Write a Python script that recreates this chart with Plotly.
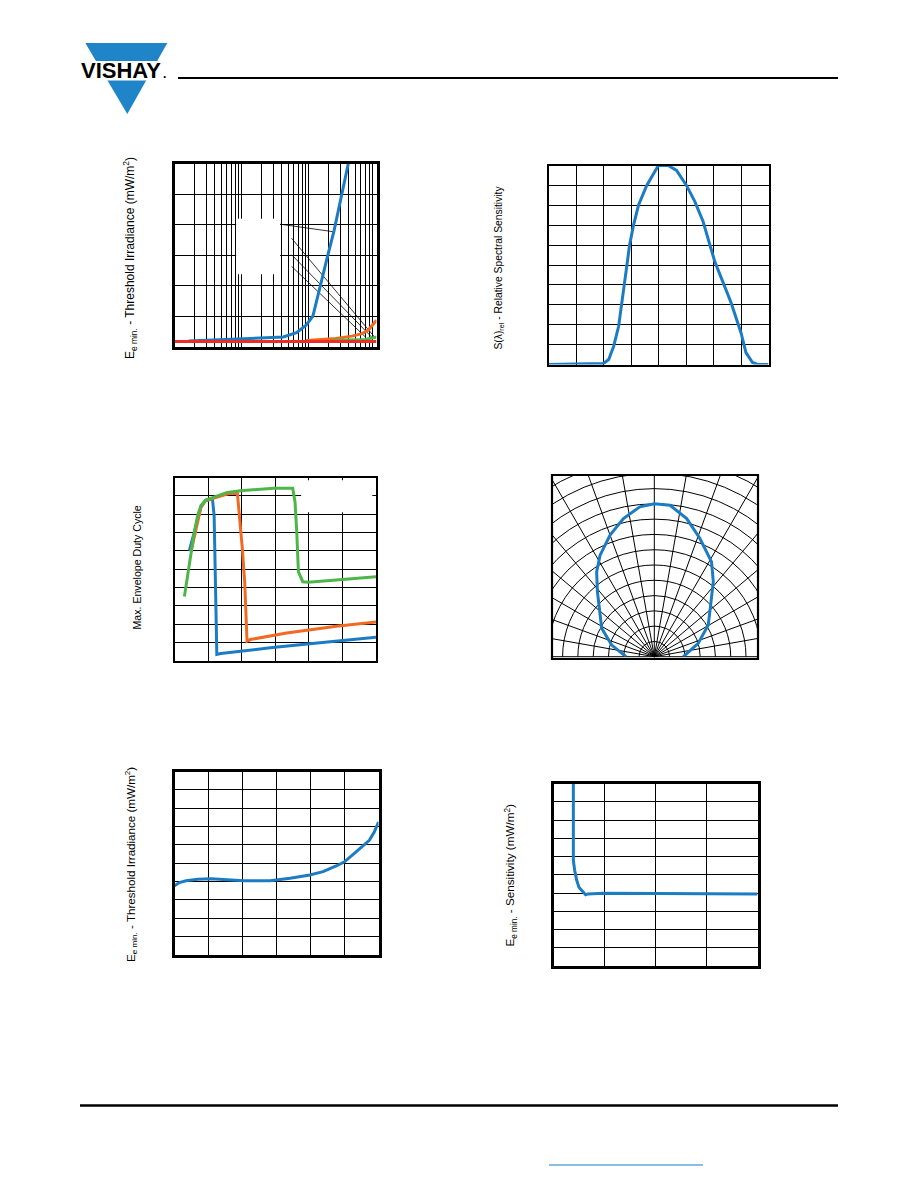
import plotly.graph_objects as go

# The page body adds an 8px margin; positions below are page pixels.
OFF = 8
W, H = 910, 1180
FONT = "Liberation Sans, Arial, sans-serif"
BLUE = "#1b7cc3"
ORANGE = "#f26a22"
GREEN = "#4cb748"
RED = "#ee2a24"


def fx(v):
    return (v - OFF) / W


def fy(v):
    return 1 - (v - OFF) / H


def px_x(a, b):
    return [fx(a), fx(b)]


def px_y(top, bottom):
    return [fy(bottom), fy(top)]


# ---------------- Chart 1: threshold irradiance vs frequency (log x) ----------------
c1_blue_x = [1.62, 2.69, 8.7, 24, 42, 66, 92, 116, 145, 192, 240, 301, 400]
c1_blue_y = [0.18, 0.20, 0.24, 0.27, 0.31, 0.45, 0.70, 1.00, 1.90, 2.96, 3.80, 4.78, 6.10]
c1_orange_x = [92, 254, 445, 625, 780, 980, 1030]
c1_orange_y = [0.20, 0.26, 0.34, 0.42, 0.54, 0.80, 0.86]
c1_green_x = [226, 700, 1000, 1030]
c1_green_y = [0.20, 0.23, 0.30, 0.30]
c1_red_x = [1, 1030]
c1_red_y = [0.16, 0.16]
c1_box_x = [8.3, 37.6, 37.6, 8.3, 8.3]
c1_box_y = [2.37, 2.37, 4.19, 4.19, 2.37]
c1_lead_x = [37.6, 59, 240, None, 55.7, 980, None, 55.7, 925, None, 55.7, 698]
c1_lead_y = [4.01, 3.95, 3.76, None, 3.55, 0.29, None, 3.01, 0.25, None, 2.63, 0.32]

# ---------------- Chart 2: relative spectral sensitivity ----------------
c2_wl = [750, 850, 859.5, 868.5, 877.5, 882.3, 887.7, 892.6, 897.4, 904.6, 913.6,
         928.6, 943.7, 949.7, 967.7, 982.8, 1000.8, 1015.9, 1030.9, 1042.9, 1052,
         1067, 1082, 1100, 1109, 1121, 1130, 1150]
c2_rel = [0, 0.005, 0.025, 0.092, 0.192, 0.3, 0.4, 0.5, 0.6, 0.7, 0.8,
          0.9, 0.975, 1.0, 1.0, 0.975, 0.9, 0.82, 0.72, 0.6, 0.52,
          0.415, 0.31, 0.16, 0.06, 0.01, 0, 0]

# ---------------- Chart 3: max envelope duty cycle ----------------
c3_blue_x = [4.4, 5.9, 7.9, 9.3, 11.3, 11.8, 12.1, 12.5, 12.6, 13.8, 28.5, 43.3, 60]
c3_blue_y = [0.60, 0.70, 0.84, 0.875, 0.883, 0.793, 0.523, 0.162, 0.036, 0.041, 0.072, 0.099, 0.13]
c3_orange_x = [4.9, 6.4, 7.9, 9.3, 11.8, 15.7, 18.7, 19.2, 20.2, 20.9, 21.4, 21.6, 22.6, 33.4, 48.2, 60]
c3_orange_y = [0.595, 0.72, 0.84, 0.875, 0.89, 0.91, 0.919, 0.829, 0.613, 0.432, 0.198, 0.108, 0.117, 0.153, 0.189, 0.213]
c3_green_x = [2.95, 3.93, 4.92, 5.9, 6.9, 7.87, 9.34, 11.8, 15.7, 19.7, 25.6, 29.5, 35.2,
              35.9, 36.4, 36.9, 38.2, 39.8, 48.2, 60]
c3_green_y = [0.351, 0.477, 0.577, 0.703, 0.793, 0.847, 0.877, 0.892, 0.919, 0.928, 0.937,
              0.942, 0.942, 0.865, 0.703, 0.486, 0.432, 0.429, 0.441, 0.459]
c3_box_x = [37.7, 58.9, 58.9, 37.7, 37.7]
c3_box_y = [0.81, 0.81, 0.985, 0.985, 0.81]

# ---------------- Chart 4: angular (polar) sensitivity ----------------
c4_theta = [-90, -74.7, -61.7, -48.7, -41.2, -34.2, -28.1, -20, -12.6, -5.5, 0,
            5.9, 13.2, 21.1, 31.1, 38.2, 47.5, 59.6, 73.1, 90]
c4_r = [0.185, 0.289, 0.391, 0.478, 0.565, 0.671, 0.753, 0.846, 0.926, 0.985, 1.0,
        0.996, 0.928, 0.829, 0.725, 0.624, 0.5, 0.409, 0.30, 0.19]

# ---------------- Chart 5: threshold irradiance vs temperature ----------------
c5_temp = [-30, -27.1, -23.2, -16.4, -8.6, -0.9, 10.8, 26.3, 38, 49.6, 57.4, 65.1, 70, 76.8, 84.6, 87.5, 90]
c5_ee = [0.377, 0.395, 0.405, 0.413, 0.416, 0.413, 0.405, 0.405, 0.418, 0.436, 0.454,
         0.485, 0.508, 0.562, 0.625, 0.670, 0.724]

# ---------------- Chart 6: sensitivity ----------------
c6_x = [0.389, 0.389, 0.415, 0.454, 0.499, 0.564, 0.629, 0.674, 0.985, 4.0]
c6_y = [1.05, 0.58, 0.525, 0.471, 0.431, 0.408, 0.39, 0.395, 0.399, 0.395]

fig = go.Figure()

# chart 1
fig.add_trace(go.Scatter(x=c1_box_x, y=c1_box_y, fill="toself", fillcolor="white",
                         line=dict(width=0, color="white"), mode="lines", xaxis="x", yaxis="y"))
fig.add_trace(go.Scatter(x=c1_lead_x, y=c1_lead_y, mode="lines",
                         line=dict(color="black", width=0.8), xaxis="x", yaxis="y"))
fig.add_trace(go.Scatter(x=c1_blue_x, y=c1_blue_y, mode="lines", line=dict(color=BLUE, width=3), xaxis="x", yaxis="y"))
fig.add_trace(go.Scatter(x=c1_orange_x, y=c1_orange_y, mode="lines", line=dict(color=ORANGE, width=3), xaxis="x", yaxis="y"))
fig.add_trace(go.Scatter(x=c1_green_x, y=c1_green_y, mode="lines", line=dict(color=GREEN, width=3), xaxis="x", yaxis="y"))
fig.add_trace(go.Scatter(x=c1_red_x, y=c1_red_y, mode="lines", line=dict(color=RED, width=3), xaxis="x", yaxis="y"))

# chart 2
fig.add_trace(go.Scatter(x=c2_wl, y=c2_rel, mode="lines", line=dict(color=BLUE, width=3), xaxis="x2", yaxis="y2"))

# chart 3
fig.add_trace(go.Scatter(x=c3_box_x, y=c3_box_y, fill="toself", fillcolor="white",
                         line=dict(width=0, color="white"), mode="lines", xaxis="x3", yaxis="y3"))
fig.add_trace(go.Scatter(x=c3_blue_x, y=c3_blue_y, mode="lines", line=dict(color=BLUE, width=3), xaxis="x3", yaxis="y3"))
fig.add_trace(go.Scatter(x=c3_orange_x, y=c3_orange_y, mode="lines", line=dict(color=ORANGE, width=3), xaxis="x3", yaxis="y3"))
fig.add_trace(go.Scatter(x=c3_green_x, y=c3_green_y, mode="lines", line=dict(color=GREEN, width=3), xaxis="x3", yaxis="y3"))

# chart 4
fig.add_trace(go.Scatterpolar(r=c4_r, theta=c4_theta, mode="lines", line=dict(color=BLUE, width=3), subplot="polar"))

# chart 5
fig.add_trace(go.Scatter(x=c5_temp, y=c5_ee, mode="lines", line=dict(color=BLUE, width=3), xaxis="x5", yaxis="y5"))

# chart 6
fig.add_trace(go.Scatter(x=c6_x, y=c6_y, mode="lines", line=dict(color=BLUE, width=3), xaxis="x6", yaxis="y6"))


def axis(domain, rng, dtick, lw, anchor, typ="linear", tick0=None):
    d = dict(domain=domain, range=rng, dtick=dtick, type=typ, anchor=anchor,
             showticklabels=False, ticks="", showgrid=True, gridcolor="black",
             gridwidth=1, zeroline=False, showline=True, linecolor="black",
             linewidth=lw, mirror=True, fixedrange=True)
    if tick0 is not None:
        d["tick0"] = tick0
    return d


R_MAX = 1.4
R_PX = 214
CX, CY = 654.3, 656.7

fig.update_layout(
    width=W, height=H, autosize=False, showlegend=False,
    margin=dict(l=0, r=0, t=0, b=0),
    paper_bgcolor="white", plot_bgcolor="white",
    font=dict(family=FONT, color="black"),
    xaxis=axis(px_x(174.5, 376.5), [0, 3.013], "D1", 2.7, "y", typ="log"),
    yaxis=axis(px_y(163.5, 346.5), [0, 6], 1, 2.7, "x"),
    xaxis2=axis(px_x(548.5, 768.5), [750, 1150], 50, 1.6, "y2"),
    yaxis2=axis(px_y(165.5, 364.5), [0, 1], 0.1, 1.6, "x2"),
    xaxis3=axis(px_x(174.5, 376), [0, 60], 10, 2.2, "y3"),
    yaxis3=axis(px_y(477.5, 661), [0, 1], 0.1, 2.2, "x3"),
    xaxis5=axis(px_x(174.5, 378.5), [-30, 90], 20, 2.5, "y5", tick0=-30),
    yaxis5=axis(px_y(771.5, 955), [0, 1], 0.1, 2.5, "x5"),
    xaxis6=axis(px_x(553.5, 757.5), [0, 4], 1, 2.5, "y6"),
    yaxis6=axis(px_y(783.5, 966), [0, 1], 0.1, 2.5, "x6"),
    polar=dict(
        domain=dict(x=px_x(CX - R_PX, CX + R_PX), y=px_y(CY - R_PX, CY)),
        sector=[0, 180], bgcolor="white",
        radialaxis=dict(range=[0, R_MAX], dtick=0.1, tick0=0, showticklabels=False,
                        ticks="", showline=False, gridcolor="black", gridwidth=1),
        angularaxis=dict(rotation=90, direction="clockwise", dtick=10,
                         showticklabels=False, ticks="", showline=False,
                         gridcolor="black", gridwidth=1),
    ),
)

shapes = []
# masks around polar chart and its frame
for (x0, y0, x1, y1) in [(CX - R_PX - 10, CY - R_PX - 10, 551.5, CY + 10),
                         (758.5, CY - R_PX - 10, CX + R_PX + 10, CY + 10),
                         (551.5, CY - R_PX - 10, 758.5, 474.5)]:
    shapes.append(dict(type="rect", xref="paper", yref="paper",
                       x0=fx(x0), x1=fx(x1), y0=fy(y1), y1=fy(y0),
                       fillcolor="white", line=dict(width=0), layer="above"))
shapes.append(dict(type="rect", xref="paper", yref="paper",
                   x0=fx(552), x1=fx(758), y0=fy(659), y1=fy(475),
                   line=dict(color="black", width=2.2), layer="above"))

# header / footer rules
shapes.append(dict(type="line", xref="paper", yref="paper", x0=fx(178), x1=fx(838),
                   y0=fy(78), y1=fy(78), line=dict(color="black", width=2)))
shapes.append(dict(type="line", xref="paper", yref="paper", x0=fx(80), x1=fx(838),
                   y0=fy(1105.5), y1=fy(1105.5), line=dict(color="black", width=2.3)))
shapes.append(dict(type="line", xref="paper", yref="paper", x0=fx(549), x1=fx(703),
                   y0=fy(1165), y1=fy(1165), line=dict(color=BLUE, width=1)))

# logo triangle with white band
tri = "M {},{} L {},{} L {},{} Z".format(fx(85.3), fy(43), fx(167.3), fy(43), fx(127.3), fy(114))
shapes.append(dict(type="path", xref="paper", yref="paper", path=tri,
                   fillcolor="#1f84c8", line=dict(width=0)))
shapes.append(dict(type="rect", xref="paper", yref="paper", x0=fx(78), x1=fx(172),
                   y0=fy(80.5), y1=fy(61), fillcolor="white", line=dict(width=0)))
fig.update_layout(shapes=shapes)

ann = []
ann.append(dict(text="<b>VISHAY</b>", x=fx(121.3), y=fy(71), xref="paper", yref="paper",
                xanchor="center", yanchor="middle", showarrow=False,
                font=dict(family=FONT, size=22, color="black")))
ann.append(dict(text="<b>.</b>", x=fx(164), y=fy(74), xref="paper", yref="paper",
                xanchor="center", yanchor="middle", showarrow=False,
                font=dict(family=FONT, size=12, color="black")))

titles = [
    ("E<sub>e min.</sub> - Threshold Irradiance (mW/m<sup>2</sup>)", 130, 258, 12),
    ("S(λ)<sub>rel</sub> - Relative Spectral Sensitivity", 499, 267.5, 10.3),
    ("Max. Envelope Duty Cycle", 136, 567.5, 10.6),
    ("E<sub>e min.</sub> - Threshold Irradiance (mW/m<sup>2</sup>)", 131, 864, 11.6),
    ("E<sub>e min.</sub> - Sensitivity (mW/m<sup>2</sup>)", 510, 875.5, 11.7),
]
for t, x, y, s in titles:
    ann.append(dict(text=t, x=fx(x), y=fy(y), xref="paper", yref="paper",
                    xanchor="center", yanchor="middle", showarrow=False, textangle=-90,
                    font=dict(family=FONT, size=s, color="black")))
fig.update_layout(annotations=ann)

fig.write_html("out.html")
